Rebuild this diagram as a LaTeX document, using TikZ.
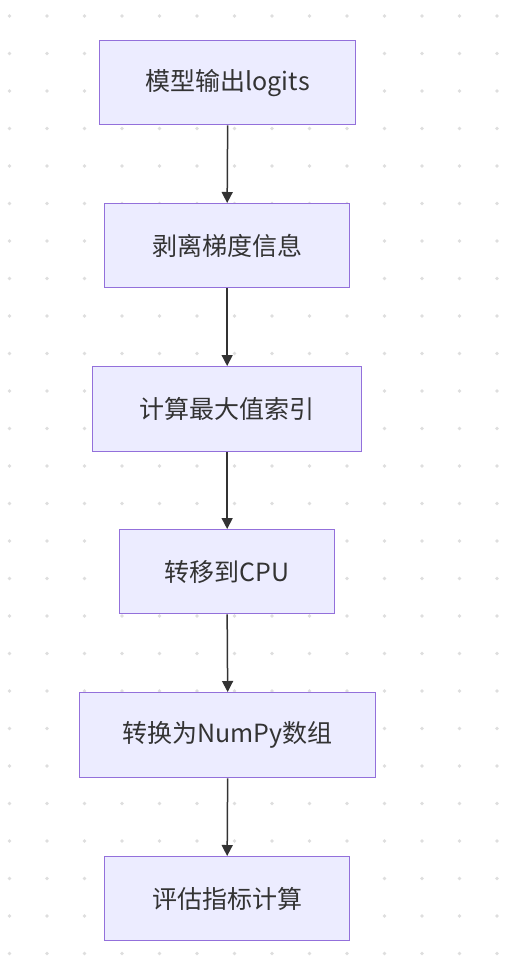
\documentclass[tikz,border=0pt]{standalone}
\usepackage{fontspec}
\setmainfont{Noto Sans CJK SC}
\usetikzlibrary{arrows.meta}
\definecolor{boxfill}{HTML}{ECECFF}
\definecolor{boxline}{HTML}{9370DB}
\definecolor{ink}{HTML}{333333}
\definecolor{dotc}{HTML}{DEDEDE}
\tikzset{
  flowbox/.style={draw=boxline, fill=boxfill, line width=1.3pt, inner sep=0pt, text=ink, font=\fontsize{25}{30}\selectfont, anchor=north west},
  flowarrow/.style={draw=ink, line width=1.5pt, -{Triangle[length=11pt,width=11pt]}}
}
\begin{document}
\begin{tikzpicture}[x=1pt,y=-1pt]
\useasboundingbox (0,0) rectangle (509,979);
\fill[white] (0,0) rectangle (509,979);
\foreach \i in {0,...,13} {
  \foreach \j in {0,...,25} {
    \fill[dotc] ({9.5+37.5*\i},{16+37.5*\j}) circle (1.8pt);
  }
}
\node[flowbox, minimum width=256pt, minimum height=84pt] (n1) at (99,40) {模型输出logits};
\node[flowbox, minimum width=245pt, minimum height=84pt] (n2) at (104,203) {剥离梯度信息};
\node[flowbox, minimum width=269pt, minimum height=85pt] (n3) at (92,366) {计算最大值索引};
\node[flowbox, minimum width=215pt, minimum height=84pt] (n4) at (119,529) {转移到CPU};
\node[flowbox, minimum width=296pt, minimum height=85pt] (n5) at (79,692) {转换为NumPy数组};
\node[flowbox, minimum width=245pt, minimum height=84pt] (n6) at (104,856) {评估指标计算};
\draw[flowarrow] (n1.south) -- (n2.north);
\draw[flowarrow] (n2.south) -- (n3.north);
\draw[flowarrow] (n3.south) -- (n4.north);
\draw[flowarrow] (n4.south) -- (n5.north);
\draw[flowarrow] (n5.south) -- (n6.north);
\end{tikzpicture}
\end{document}
